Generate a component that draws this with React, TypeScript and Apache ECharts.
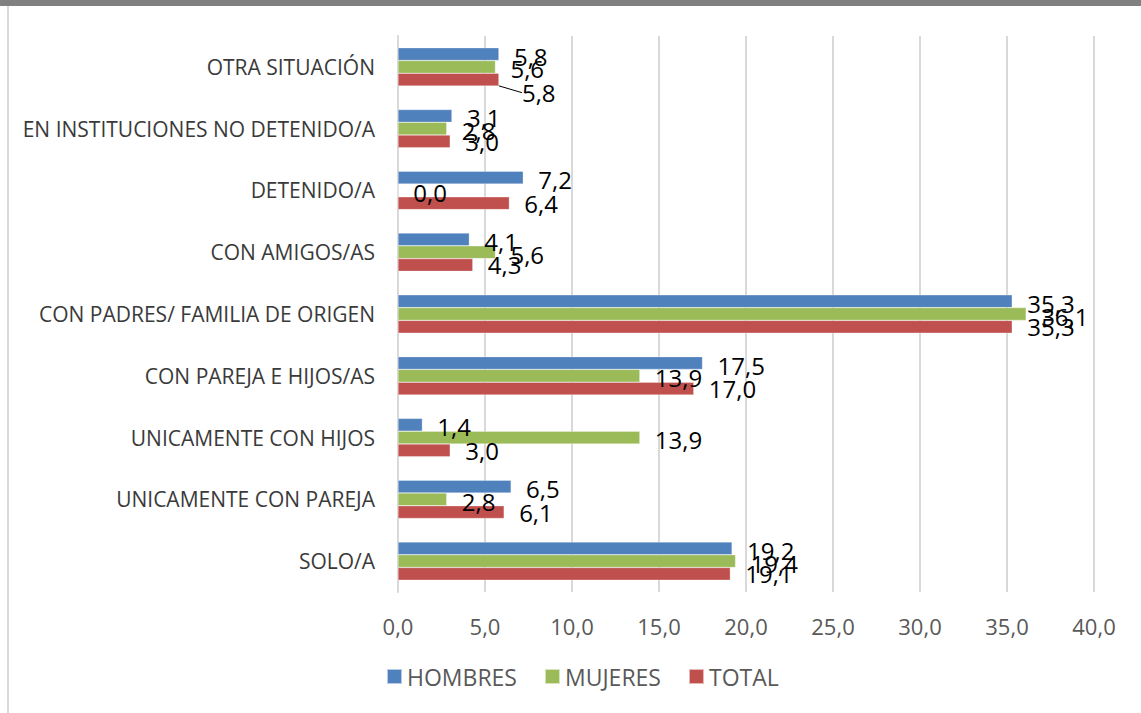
import React, { useEffect, useRef } from "react";
import * as echarts from "echarts";

const categories = [
  "OTRA SITUACIÓN",
  "EN INSTITUCIONES NO DETENIDO/A",
  "DETENIDO/A",
  "CON AMIGOS/AS",
  "CON PADRES/ FAMILIA DE ORIGEN",
  "CON PAREJA E HIJOS/AS",
  "UNICAMENTE CON HIJOS",
  "UNICAMENTE CON PAREJA",
  "SOLO/A",
];
const hombres = [5.8, 3.1, 7.2, 4.1, 35.3, 17.5, 1.4, 6.5, 19.2];
const mujeres = [5.6, 2.8, 0.0, 5.6, 36.1, 13.9, 13.9, 2.8, 19.4];
const total = [5.8, 3.0, 6.4, 4.3, 35.3, 17.0, 3.0, 6.1, 19.1];
const seriesNames = ["HOMBRES", "MUJERES", "TOTAL"];
const colors = ["#4F81BD", "#9BBB59", "#C0504D"];

const fmt = (v: number) => v.toFixed(1).replace(".", ",");

export default function App() {
  const ref = useRef<HTMLDivElement>(null);
  useEffect(() => {
    document.body.style.margin = "0";
    const chart = echarts.init(ref.current!, null, { renderer: "svg" });
    const font = "'Open Sans', sans-serif";
    const mkSeries = (name: string, data: number[], color: string, idx: number) => ({
      name,
      type: "bar",
      data: data.map((v, i) =>
        idx === 2 && i === 0
          ? { value: v, labelLine: { show: true, lineStyle: { color: "#000", width: 1 } } }
          : v
      ),
      barGap: "0%",
      barCategoryGap: "38%",
      itemStyle: { color, borderColor: "rgba(255,255,255,0.6)", borderWidth: 0.5 },
      label: {
        show: true,
        position: "right",
        distance: 15,
        offset: [0, 2],
        color: "#000",
        fontSize: 24,
        fontFamily: font,
        formatter: (p: any) => fmt(p.value),
      },
      labelLine: { show: false },
      labelLayout:
        idx === 2
          ? (p: any) => (p.dataIndex === 0 ? { dx: 8, dy: 13 } : {})
          : undefined,
    });
    chart.setOption({
      animation: false,
      backgroundColor: "#fff",
      textStyle: { fontFamily: font },
      grid: { left: 398, right: 47, top: 36, bottom: 121, containLabel: false },
      xAxis: {
        type: "value",
        min: 0,
        max: 40,
        interval: 5,
        axisLine: { show: false },
        axisTick: { show: false },
        splitLine: { show: true, lineStyle: { color: "#d9d9d9", width: 2 } },
        axisLabel: {
          color: "#595959",
          fontSize: 22,
          fontFamily: font,
          margin: 23,
          formatter: (v: number) => fmt(v),
        },
      },
      yAxis: {
        type: "category",
        data: categories,
        inverse: true,
        axisLine: { show: true, lineStyle: { color: "#d9d9d9", width: 2 } },
        axisTick: { show: false },
        axisLabel: { color: "#3a3a3a", fontSize: 21, fontFamily: font, margin: 23 },
      },
      legend: {
        data: seriesNames,
        left: 381,
        top: 660,
        itemWidth: 15,
        itemHeight: 15,
        itemGap: 27,
        icon: "rect",
        textStyle: { color: "#595959", fontSize: 23, fontFamily: font },
      },
      graphic: [
        { type: "rect", shape: { x: 0, y: 0, width: 1141, height: 6 }, style: { fill: "#808080" } },
        { type: "rect", shape: { x: 7, y: 6, width: 2, height: 707 }, style: { fill: "#d9d9d9" } },
      ],
      series: [
        mkSeries(seriesNames[0], hombres, colors[0], 0),
        mkSeries(seriesNames[1], mujeres, colors[1], 1),
        mkSeries(seriesNames[2], total, colors[2], 2),
      ],
    });
    return () => chart.dispose();
  }, []);
  return <div ref={ref} style={{ width: 1141, height: 713 }} />;
}
